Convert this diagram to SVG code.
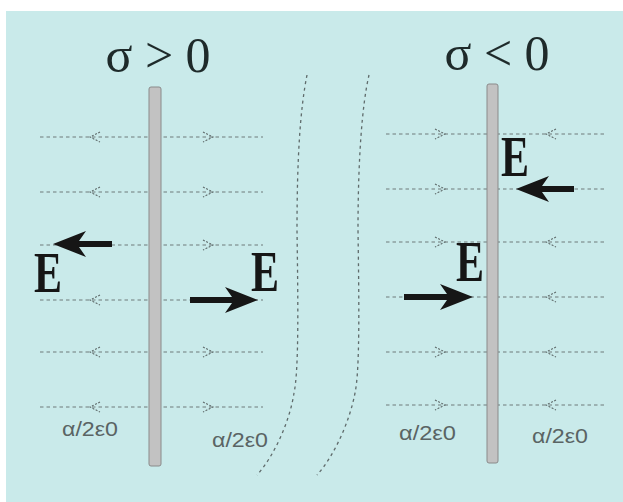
<svg xmlns="http://www.w3.org/2000/svg" width="623" height="502" viewBox="0 0 623 502">
<style>
.bg{fill:#c9eaea}
.plate{fill:#c2c2c2;stroke:#8a8a8a;stroke-width:1}
.field{stroke:#6f7b7b;stroke-width:1;stroke-dasharray:3.5 3;fill:none}
.small{stroke:#5f6b6b;stroke-width:1.1;stroke-dasharray:2 1.5;fill:none}
.curve{stroke:#5f6b6b;stroke-width:1.3;stroke-dasharray:3 3.5;fill:none}
.big{fill:#161616}
.title{font-family:"Liberation Serif","Times New Roman",serif;font-size:50px;fill:#1e2a2a}
.E{font-family:"Liberation Serif","Times New Roman",serif;font-weight:bold;font-size:42px;fill:#161616}
.lab{font-family:"Liberation Sans",Arial,sans-serif;font-size:20px;fill:#5a6464}
</style>
<rect x="0" y="0" width="623" height="502" fill="#ffffff"/>
<rect class="bg" x="6" y="11" width="617" height="491"/>

<g id="connectors">
  <g id="field-left">
    <line class="field" x1="40" y1="137" x2="263" y2="137"/>
    <line class="field" x1="40" y1="192" x2="263" y2="192"/>
    <line class="field" x1="40" y1="245" x2="263" y2="245"/>
    <line class="field" x1="40" y1="300" x2="263" y2="300"/>
    <line class="field" x1="40" y1="352" x2="263" y2="352"/>
    <line class="field" x1="40" y1="407" x2="263" y2="407"/>
    <path class="small" d="M100,132 L90,137 L100,142 M100,187 L90,192 L100,197 M100,402 L90,407 L100,412 M100,295 L90,300 L100,305 M100,347 L90,352 L100,357"/>
    <path class="small" d="M203,132 L213,137 L203,142 M203,187 L213,192 L203,197 M203,240 L213,245 L203,250 M203,347 L213,352 L203,357 M203,402 L213,407 L203,412"/>
  </g>
  <g id="field-right">
    <line class="field" x1="386" y1="134" x2="604" y2="134"/>
    <line class="field" x1="386" y1="189" x2="604" y2="189"/>
    <line class="field" x1="386" y1="242" x2="604" y2="242"/>
    <line class="field" x1="386" y1="297" x2="604" y2="297"/>
    <line class="field" x1="386" y1="352" x2="604" y2="352"/>
    <line class="field" x1="386" y1="405" x2="604" y2="405"/>
    <path class="small" d="M435,129 L445,134 L435,139 M435,184 L445,189 L435,194 M435,237 L445,242 L435,247 M435,347 L445,352 L435,357 M435,400 L445,405 L435,410"/>
    <path class="small" d="M556,129 L546,134 L556,139 M556,237 L546,242 L556,247 M556,292 L546,297 L556,302 M556,347 L546,352 L556,357 M556,400 L546,405 L556,410"/>
  </g>
  <path class="curve" d="M307,75 C300,110 297,160 297,230 C298,300 299,370 294,393 C290,420 275,455 257,475"/>
  <path class="curve" d="M369,75 C362,105 358,160 358,230 C359,300 360,370 355,393 C350,420 335,455 317,475"/>
  <path class="big" d="M53,244 L86,231 L79,241 L112,241 L112,247 L79,247 L86,257 Z"/>
  <path class="big" d="M258,300 L225,287 L232,297 L190,297 L190,303 L232,303 L225,313 Z"/>
  <path class="big" d="M516,189 L549,176 L542,186 L574,186 L574,192 L542,192 L549,202 Z"/>
  <path class="big" d="M473,297 L440,284 L447,294 L404,294 L404,300 L447,300 L440,310 Z"/>
</g>

<g id="plate-left">
  <rect class="plate" x="149" y="87" width="12" height="379" rx="2"/>
</g>
<g id="plate-right">
  <rect class="plate" x="487" y="84" width="11" height="379" rx="2"/>
</g>

<g id="title-left"><text class="title" x="158" y="72" text-anchor="middle">σ &gt; 0</text></g>
<g id="title-right"><text class="title" x="497" y="70" text-anchor="middle">σ &lt; 0</text></g>

<g id="E-labels">
  <text class="E" transform="translate(34,292) scale(1,1.35)">E</text>
  <text class="E" transform="translate(251,291) scale(1,1.35)">E</text>
  <text class="E" transform="translate(501,176) scale(1,1.35)">E</text>
  <text class="E" transform="translate(456,281) scale(1,1.35)">E</text>
</g>

<g id="density-labels">
  <text class="lab" x="62" y="436" textLength="56" lengthAdjust="spacingAndGlyphs">α/2ε0</text>
  <text class="lab" x="212" y="447" textLength="56" lengthAdjust="spacingAndGlyphs">α/2ε0</text>
  <text class="lab" x="399" y="440" textLength="57" lengthAdjust="spacingAndGlyphs">α/2ε0</text>
  <text class="lab" x="532" y="443" textLength="56" lengthAdjust="spacingAndGlyphs">α/2ε0</text>
</g>
</svg>
